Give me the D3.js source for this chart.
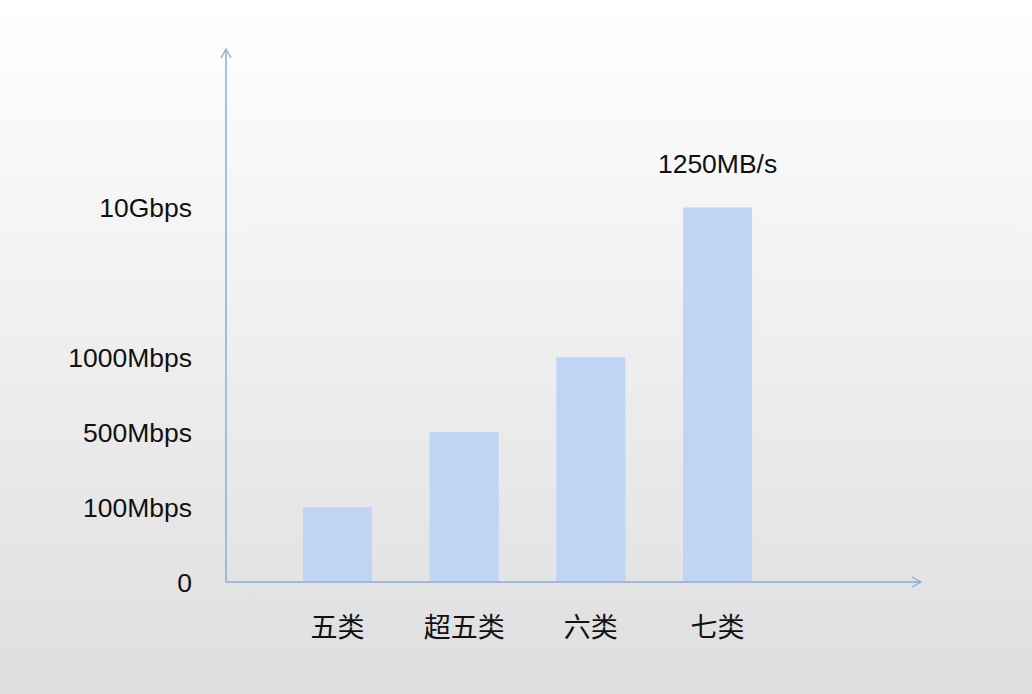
<!DOCTYPE html>
<html>
<head>
<meta charset="utf-8">
<script src="https://cdn.jsdelivr.net/npm/d3@7"></script>
<style>
  html, body { margin: 0; padding: 0; }
  body { width: 1032px; height: 694px; overflow: hidden; }
  text { font-family: "Liberation Sans", Arial, "Noto Sans CJK SC", sans-serif; fill: #111; }
</style>
</head>
<body>
<div id="canvas"></div>
<script>
// cable categories and the speed level each bar reaches
var categories = ["五类", "超五类", "六类", "七类"];
var levels = [1, 2, 3, 5];
// y tick labels sit on these levels (level 4 has no label)
var tickLevels = [0, 1, 2, 3, 5];
var tickLabels = ["0", "100Mbps", "500Mbps", "1000Mbps", "10Gbps"];
var topNote = "1250MB/s";

var width = 1032, height = 694;
var x0 = 226, yBase = 582;

var svg = d3.select("#canvas")
  .append("svg")
  .attr("width", width)
  .attr("height", height);

var grad = svg.append("defs").append("linearGradient")
  .attr("id", "bg")
  .attr("x1", 0).attr("y1", 0).attr("x2", 0).attr("y2", 1);
grad.append("stop").attr("offset", "0%").attr("stop-color", "#ffffff");
grad.append("stop").attr("offset", "100%").attr("stop-color", "#dedede");

svg.append("rect")
  .attr("width", width).attr("height", height)
  .attr("fill", "url(#bg)");

var x = d3.scaleBand()
  .domain(categories)
  .range([274, 781])
  .paddingInner(0.455)
  .paddingOuter(0.228);

var y = d3.scaleLinear()
  .domain([0, 5])
  .range([yBase, 207.5]);

// bars
svg.selectAll("rect.bar")
  .data(levels)
  .enter()
    .append("rect")
    .attr("class", "bar")
    .attr("x", function(d, i) { return x(categories[i]); })
    .attr("width", x.bandwidth())
    .attr("y", function(d) { return y(d); })
    .attr("height", function(d) { return yBase - y(d); })
    .attr("fill", "#c0d4f3");

// axes with open arrow heads
var axisColor = "#8eaadc";
svg.append("line")
  .attr("x1", x0).attr("y1", yBase).attr("x2", x0).attr("y2", 49)
  .attr("stroke", axisColor).attr("stroke-width", 1.5);
svg.append("path")
  .attr("d", "M" + (x0 - 5) + ",58 L" + x0 + ",49 L" + (x0 + 5) + ",58")
  .attr("fill", "none").attr("stroke", axisColor).attr("stroke-width", 1.3);

svg.append("line")
  .attr("x1", x0).attr("y1", yBase).attr("x2", 921).attr("y2", yBase)
  .attr("stroke", axisColor).attr("stroke-width", 1.5);
svg.append("path")
  .attr("d", "M912," + (yBase - 5) + " L921," + yBase + " L912," + (yBase + 5))
  .attr("fill", "none").attr("stroke", axisColor).attr("stroke-width", 1.3);

// y tick labels
svg.selectAll("text.ylab")
  .data(tickLevels)
  .enter()
    .append("text")
    .attr("class", "ylab")
    .attr("x", 192)
    .attr("y", function(d) { return y(d); })
    .attr("dy", "0.36em")
    .attr("text-anchor", "end")
    .attr("font-size", 26.5)
    .text(function(d, i) { return tickLabels[i]; });

// category labels
svg.selectAll("text.xlab")
  .data(categories)
  .enter()
    .append("text")
    .attr("class", "xlab")
    .attr("x", function(d) { return x(d) + x.bandwidth() / 2; })
    .attr("y", 627)
    .attr("dy", "0.36em")
    .attr("text-anchor", "middle")
    .attr("font-size", 27)
    .attr("font-family", "'Noto Sans CJK SC', sans-serif")
    .text(function(d) { return d; });

// note above the tallest bar
svg.append("text")
  .attr("x", x(categories[3]) + x.bandwidth() / 2)
  .attr("y", y(levels[3]) - 44)
  .attr("dy", "0.36em")
  .attr("text-anchor", "middle")
  .attr("font-size", 26.5)
  .text(topNote);
</script>
</body>
</html>
